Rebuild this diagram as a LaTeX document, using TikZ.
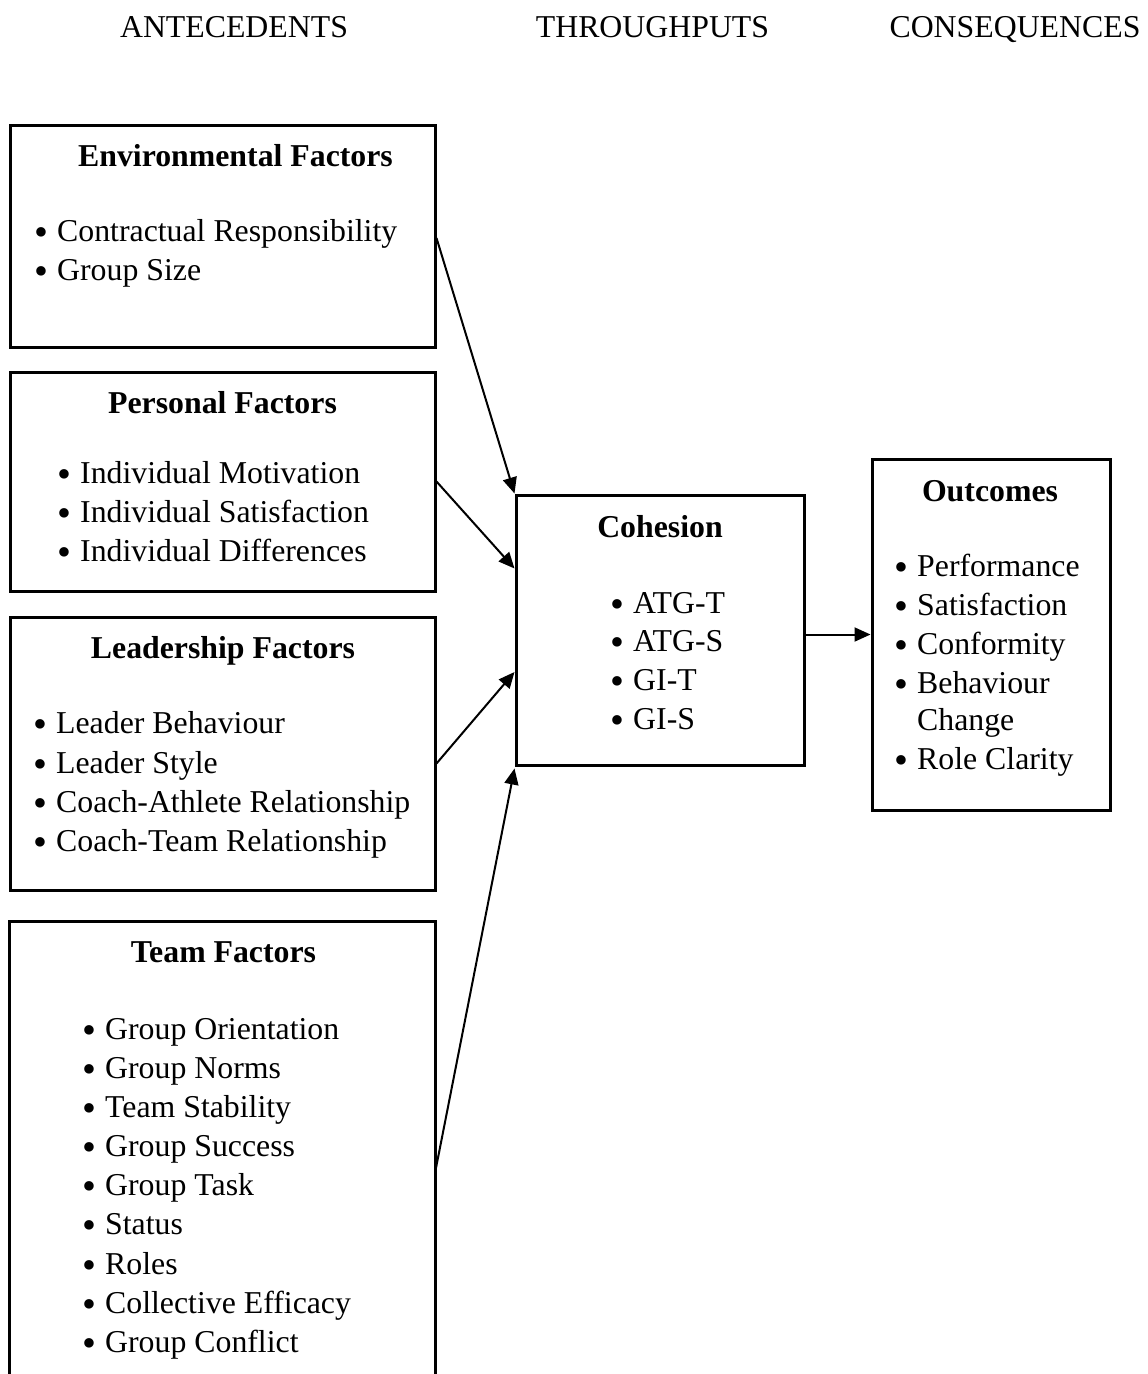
\documentclass[tikz,border=0pt]{standalone}
\usepackage{fontspec}
\usepackage{graphicx}
\setmainfont{Liberation Serif}
\usetikzlibrary{arrows.meta}
\newcommand\basefnt{\fontsize{31.8}{39}\selectfont}
\newcommand\bigbul{\raisebox{-0.13em}{\scalebox{1.25}{\textbullet}}}
\tikzset{
  box/.style={draw, line width=3pt, inner sep=0pt},
  txt/.style={inner sep=0pt, text height=0.68em, text depth=0.22em, font=\basefnt, yshift=-8pt},
  hd/.style={txt, font=\basefnt\bfseries},
  itm/.style={txt, anchor=west},
  con/.style={line width=2pt, -{Triangle[length=16pt,width=14pt]}},
}
\newcommand\itm[4]{%
  \node[itm] (#1b) at (#2-23,#3) {\bigbul};
  \node[itm] (#1) at (#2,#3) {#4};
}
\begin{document}
\begin{tikzpicture}[x=1pt,y=-1pt]
\useasboundingbox (0,0) rectangle (1148,1374);
% column titles
\node[txt] (tA) at (234,27) {ANTECEDENTS};
\node[txt] (tT) at (652.5,27) {THROUGHPUTS};
\node[txt] (tC) at (1015,27) {CONSEQUENCES};
% boxes
\node[box, minimum width=425pt, minimum height=222pt] (env) at (222.5,236) {};
\node[box, minimum width=425pt, minimum height=219pt] (pers) at (222.5,481.5) {};
\node[box, minimum width=425pt, minimum height=273pt] (lead) at (222.5,753.5) {};
\node[inner sep=0pt, minimum width=425pt, minimum height=470pt] (team) at (222.5,1157) {};
\draw[line width=3pt] (team.south west) -- (team.north west) -- (team.north east) -- (team.south east);
\node[box, minimum width=288pt, minimum height=270pt] (coh) at (660,630) {};
\node[box, minimum width=238pt, minimum height=351pt] (out) at (991,634.5) {};
% environmental
\node[hd] (envh) at (235.5,156) {Environmental Factors};
\itm{e1}{57}{231}{Contractual Responsibility}
\itm{e2}{57}{270}{Group Size}
% personal
\node[hd] (persh) at (222.5,403) {Personal Factors};
\itm{p1}{80}{473}{Individual Motivation}
\itm{p2}{80}{512}{Individual Satisfaction}
\itm{p3}{80}{551}{Individual Differences}
% leadership
\node[hd] (leadh) at (223,648) {Leadership Factors};
\itm{l1}{56}{723}{Leader Behaviour}
\itm{l2}{56}{763}{Leader Style}
\itm{l3}{56}{802}{Coach-Athlete Relationship}
\itm{l4}{56}{841}{Coach-Team Relationship}
% team
\node[hd] (teamh) at (223.5,952) {Team Factors};
\itm{t1}{105}{1029}{Group Orientation}
\itm{t2}{105}{1068}{Group Norms}
\itm{t3}{105}{1107}{Team Stability}
\itm{t4}{105}{1146}{Group Success}
\itm{t5}{105}{1185}{Group Task}
\itm{t6}{105}{1224}{Status}
\itm{t7}{105}{1264}{Roles}
\itm{t8}{105}{1303}{Collective Efficacy}
\itm{t9}{105}{1342}{Group Conflict}
% cohesion
\node[hd] (cohh) at (660,527) {Cohesion};
\itm{c1}{633}{603}{ATG-T}
\itm{c2}{633}{641}{ATG-S}
\itm{c3}{633}{680}{GI-T}
\itm{c4}{633}{719}{GI-S}
% outcomes
\node[hd] (outh) at (990,491) {Outcomes};
\itm{o1}{917}{566}{Performance}
\itm{o2}{917}{605}{Satisfaction}
\itm{o3}{917}{644}{Conformity}
\itm{o4}{917}{683}{Behaviour}
\node[itm] (o4c) at (917,720) {Change};
\itm{o5}{917}{759}{Role Clarity}
% connectors
\draw[con] ([yshift=-2pt]env.east) -- (coh.north west);
\draw[con] (pers.east) -- ([yshift=-75pt]coh.north west);
\draw[con] ([yshift=-10pt]lead.east) -- ([yshift=-42pt]coh.west);
\draw[con] ([yshift=-15pt]team.east) -- ([yshift=-2pt]coh.south west);
\draw[con] (coh.east |- out.west) -- (out.west);
\end{tikzpicture}
\end{document}
